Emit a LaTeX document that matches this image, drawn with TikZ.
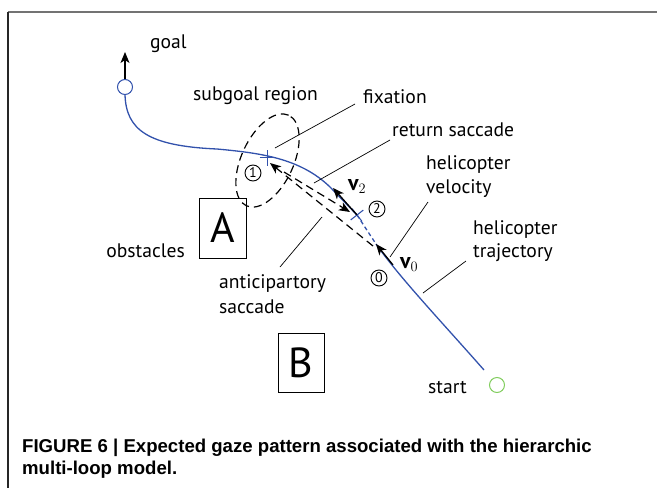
\documentclass[tikz,border=0pt]{standalone}
\usepackage{fontspec}
\setmainfont{PT Sans}
\newfontfamily\capfont{Liberation Sans}
\usetikzlibrary{arrows.meta}
\definecolor{trajblue}{RGB}{50,82,172}
\definecolor{startgreen}{RGB}{130,205,95}
\tikzset{
  lbl/.style={anchor=base west, inner sep=0pt, font=\fontsize{19.6}{22}\selectfont},
  lble/.style={anchor=base east, inner sep=0pt, font=\fontsize{19.6}{22}\selectfont},
  leader/.style={line width=0.7pt},
  traj/.style={trajblue, line width=1.3pt},
  saccade/.style={line width=1.2pt, dash pattern=on 8pt off 5pt},
  tip/.style={-{Stealth[length=11pt,width=9pt,inset=3pt]}},
  numc/.style={circle, draw, line width=0.9pt, inner sep=0pt, minimum size=16pt, font=\fontsize{14}{14}\selectfont},
  obst/.style={draw, line width=0.8pt, minimum width=47pt, minimum height=60pt, inner sep=0pt, font=\fontsize{42}{42}\selectfont},
  vlbl/.style={anchor=base west, inner sep=0pt, font=\fontsize{22}{22}\selectfont},
  captxt/.style={anchor=base west, inner sep=0pt, font=\capfont\bfseries\fontsize{18.6}{20}\selectfont}
}
\begin{document}
\begin{tikzpicture}[x=1pt,y=-1pt]
\useasboundingbox (0,0) rectangle (657,488);
% frame
\draw[line width=1.5pt, black!55] (8,12) -- (657,12);
\draw[line width=1.5pt, black!85] (8,12) -- (8,488);

% obstacles
\node[obst] (A) at (222.5,228) {A};
\node[obst, minimum width=46pt, minimum height=59pt] (B) at (301,362.5) {B};

% subgoal region
\draw[saccade, rotate around={65:(267.5,160.5)}] (267.5,160.5) ellipse (50pt and 26pt);

% goal and start markers
\node[circle, draw=trajblue, line width=1pt, minimum size=15pt, inner sep=0pt] (goalc) at (125,87) {};
\node[circle, draw=startgreen, line width=1pt, minimum size=15pt, inner sep=0pt] (startc) at (497,385) {};
\coordinate (goaltip) at (125,52);
\draw[line width=1.2pt, tip] (goalc.north) -- (goaltip);

% trajectory
\coordinate (t0) at (125,94.5);
\coordinate (t1) at (217,149);
\coordinate (t2) at (330,187);
\coordinate (fix2) at (357,215);
\coordinate (t3) at (376,244);
\coordinate (tend) at (484,370);
\draw[traj] (t0) .. controls (126,130) and (148,146) .. (t1)
  .. controls (260,153) and (300,158) .. (t2) -- (fix2);
\draw[traj, dash pattern=on 4pt off 3pt] (fix2) -- (t3);
\draw[traj] (t3) .. controls (400,278) and (440,320) .. (tend);

% fixation crosses
\coordinate (fix1) at (267.5,157.5);
\draw[trajblue, line width=1.1pt] ([xshift=-8pt]fix1) -- ([xshift=8pt]fix1)
  ([yshift=-8pt]fix1) -- ([yshift=8pt]fix1);
\draw[trajblue, line width=1.1pt, rotate around={-52:(fix2)}] ([xshift=-8pt]fix2) -- ([xshift=8pt]fix2)
  ([yshift=-8pt]fix2) -- ([yshift=8pt]fix2);

% velocity vectors
\coordinate (v2tip) at (333,188);
\coordinate (v0base) at (393,265);
\draw[line width=1.3pt, tip] (fix2) -- (v2tip);
\draw[line width=1.3pt, tip] (v0base) -- (t3);

% saccades
\coordinate (antstart) at (373,246);
\coordinate (antend) at (270,163);
\coordinate (retstart) at (284,172);
\coordinate (retend) at (350,212);
\draw[saccade, tip] (antstart) -- (antend);
\draw[saccade, tip] (retstart) -- (retend);

% numbered circles
\node[numc] (n1) at (253,173) {1};
\node[numc] (n2) at (377,209) {2};
\node[numc] (n0) at (379,278) {0};

% vector labels
\node[vlbl] (v2l) at (348,190) {$\mathbf{v}_2$};
\node[vlbl] (v0l) at (400,268) {$\mathbf{v}_0$};

% labels
\node[lbl] (goal) at (150,48) {goal};
\node[lbl] (subgoal) at (193,100) {subgoal region};
\node[lbl] (fixation) at (363,103) {fixation};
\node[lbl] (retsac) at (392,136) {return saccade};
\node[lbl] (helvel1) at (426,169) {helicopter};
\node[lbl] (helvel2) at (426,193) {velocity};
\node[lbl] (heltraj1) at (473,234) {helicopter};
\node[lbl] (heltraj2) at (473,257) {trajectory};
\node[lble] (obstacles) at (185,257) {obstacles};
\node[lbl] (antsac1) at (219,288) {anticipartory};
\node[lbl] (antsac2) at (219,313) {saccade};
\node[lbl] (start) at (428,393) {start};

% leader lines
\coordinate (lf1) at (355,104); \coordinate (lf2) at (275,148);
\coordinate (lr1) at (390,140); \coordinate (lr2) at (314,183);
\coordinate (lv1) at (428,202); \coordinate (lv2) at (390,257);
\coordinate (lt1) at (466,261); \coordinate (lt2) at (423,293);
\coordinate (la1) at (280,267); \coordinate (la2) at (322,217);
\draw[leader] (lf1) -- (lf2);
\draw[leader] (lr1) -- (lr2);
\draw[leader] (lv1) -- (lv2);
\draw[leader] (lt1) -- (lt2);
\draw[leader] (la1) -- (la2);

% caption
\node[captxt] (cap1) at (22,452) {FIGURE 6 | Expected gaze pattern associated with the hierarchic};
\node[captxt] (cap2) at (22,474) {multi-loop model.};
\end{tikzpicture}
\end{document}
